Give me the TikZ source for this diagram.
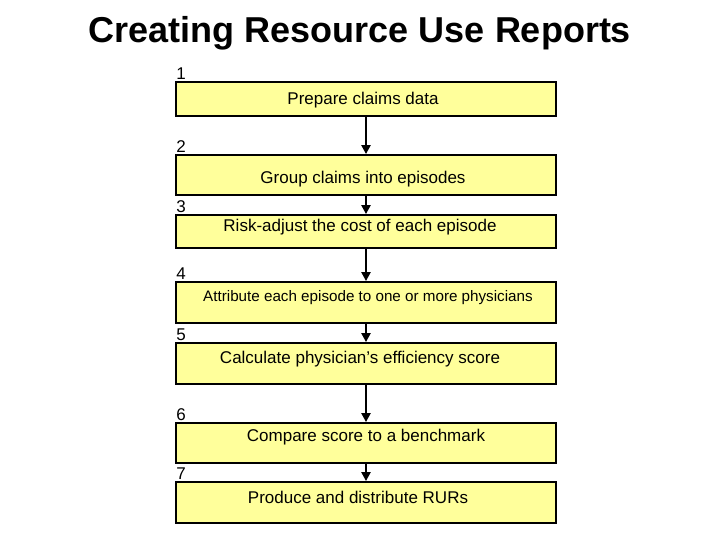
\documentclass[tikz,border=0pt]{standalone}
\usepackage{fontspec}
\setmainfont{Liberation Sans}
\usetikzlibrary{arrows.meta,positioning,calc}
\definecolor{stepyellow}{RGB}{255,255,155}

\begin{document}
\begin{tikzpicture}[
    x=1pt,y=1pt,
    box/.style={draw,line width=1.8pt,fill=stepyellow,minimum width=380pt,
                inner sep=0pt},
    txt/.style={font=\fontsize{17}{20}\selectfont,inner sep=0pt},
    num/.style={font=\fontsize{17}{20}\selectfont,inner sep=0pt,
                anchor=south west,xshift=1pt,yshift=1.5pt},
    arr/.style={-{Triangle[length=9pt,width=9pt]},line width=2.2pt},
  ]
    \useasboundingbox (0,0) rectangle (720,540);
    \node[font=\bfseries\fontsize{36}{40}\selectfont] (title) at (360,507)
      {Creating Resource Use Reports};
    % steps
    \node[box,minimum height=34pt](b1) at (366,441){};
    \node[box,minimum height=40pt](b2) at (366,365){};
    \node[box,minimum height=33pt](b3) at (366,308.5){};
    \node[box,minimum height=41pt](b4) at (366,237.5){};
    \node[box,minimum height=41pt](b5) at (366,176.5){};
    \node[box,minimum height=40pt](b6) at (366,97){};
    \node[box,minimum height=41pt](b7) at (366,37.5){};
    \node[txt](t1) at ($(b1)+(-3,-1)$){Prepare claims data};
    \node[txt](t2) at ($(b2)+(-3,-4)$){Group claims into episodes};
    \node[txt](t3) at ($(b3)+(-6,4.5)$){Risk-adjust the cost of each episode};
    \node[txt,font=\fontsize{15.2}{18}\selectfont](t4) at ($(b4)+(2,4.5)$)
      {Attribute each episode to one or more physicians};
    \node[txt](t5) at ($(b5)+(-6,4.5)$){Calculate physician’s efficiency score};
    \node[txt](t6) at ($(b6)+(0,6)$){Compare score to a benchmark};
    \node[txt](t7) at ($(b7)+(-8,5.5)$){Produce and distribute RURs};
    \foreach \i in {1,...,7}
      \node[num](n\i) at (b\i.north west){\i};
    \foreach \i [evaluate=\i as \j using int(\i+1)] in {1,...,6}
      \draw[arr](b\i.south)--(b\j.north);
  \end{tikzpicture}
\end{document}
